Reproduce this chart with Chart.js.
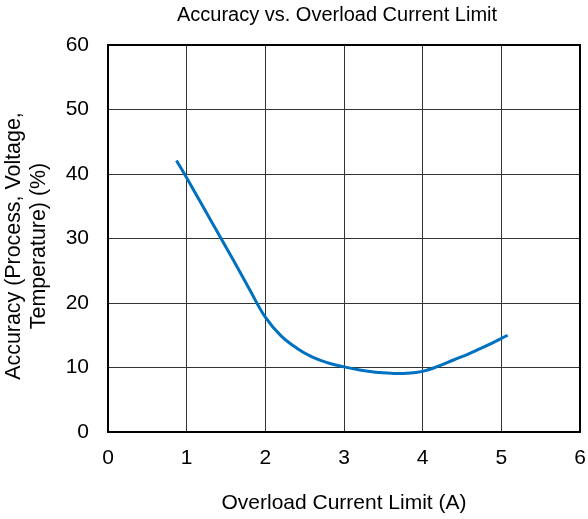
<!DOCTYPE html>
<html>
<head>
<meta charset="utf-8">
<script src="https://cdn.jsdelivr.net/npm/chart.js@4"></script>
<style>
  html, body { margin: 0; padding: 0; background: #fff; }
  #wrap { width: 588px; height: 519px; }
</style>
</head>
<body>
<div id="wrap"><canvas id="accChart" width="588" height="519"></canvas></div>
<script>
// Datos
const currentLimit = [0.87, 1.0, 1.2, 1.4, 1.6, 1.8, 2.0, 2.2, 2.4, 2.6, 2.8, 3.0, 3.2, 3.4, 3.6, 3.8, 4.0, 4.2, 4.4, 4.6, 4.8, 5.08];
const accuracy = [42.1, 39.4, 35.1, 30.8, 26.5, 22.1, 17.8, 14.9, 13.0, 11.6, 10.7, 10.1, 9.6, 9.25, 9.1, 9.1, 9.4, 10.2, 11.2, 12.2, 13.3, 15.0];
const xTicks = [0, 1, 2, 3, 4, 5, 6];
const yTicks = [0, 10, 20, 30, 40, 50, 60];
const chartTitle = 'Accuracy vs. Overload Current Limit';
const yTitle = ['Accuracy (Process, Voltage,', 'Temperature) (%)'];

const FONT = 'Arial, "Liberation Sans", sans-serif';

const points = currentLimit.map((x, i) => ({ x: x, y: accuracy[i] }));

new Chart(document.getElementById('accChart').getContext('2d'), {
    type: 'scatter',
    data: {
        datasets: [{
            data: points,
            showLine: true,
            borderColor: '#0070C0',
            borderWidth: 3,
            pointRadius: 0,
            tension: 0.4,
            fill: false
        }]
    },
    options: {
        responsive: false,
        animation: false,
        layout: { padding: { left: 0, right: 8, top: 45, bottom: 0 } },
        plugins: {
            legend: { display: false },
            tooltip: { enabled: false },
            title: { display: false }
        },
        scales: {
            x: {
                type: 'linear',
                min: 0,
                max: 6,
                afterBuildTicks: axis => { axis.ticks = xTicks.map(v => ({ value: v })); },
                afterFit: axis => {
                    axis.height = 87;
                    axis.paddingLeft = 0;
                    axis.paddingRight = 0;
                },
                border: { display: true, color: '#000', width: 2 },
                grid: { color: '#333', lineWidth: 1, drawTicks: false },
                ticks: { color: '#000', font: { family: FONT, size: 21 }, padding: 14 },
                title: {
                    display: true,
                    text: 'Overload Current Limit (A)',
                    color: '#000',
                    font: { family: FONT, size: 21, lineHeight: 1.15 },
                    padding: { top: 0, bottom: 4 }
                }
            },
            y: {
                type: 'linear',
                min: 0,
                max: 60,
                afterBuildTicks: axis => { axis.ticks = yTicks.map(v => ({ value: v })); },
                afterFit: axis => { axis.width = 108; },
                border: { display: true, color: '#000', width: 2 },
                grid: { color: '#333', lineWidth: 1, drawTicks: false },
                ticks: { color: '#000', font: { family: FONT, size: 21 }, padding: 19 },
                title: { display: false }
            }
        }
    },
    plugins: [{
        // marco completo del área de trazado, título y título del eje Y
        id: 'frame',
        afterDraw(chart) {
            const a = chart.chartArea;
            const c = chart.ctx;
            c.save();
            c.strokeStyle = '#000';
            c.lineWidth = 2;
            c.strokeRect(a.left, a.top, a.right - a.left, a.bottom - a.top);
            c.fillStyle = '#000';
            c.textAlign = 'center';
            c.textBaseline = 'middle';
            c.font = '20px ' + FONT;
            c.fillText(chartTitle, 337, 15);
            c.font = '21.4px ' + FONT;
            c.translate(0, 246);
            c.rotate(-Math.PI / 2);
            yTitle.forEach((line, i) => c.fillText(line, 0, 14.5 + i * 24.5));
            c.restore();
        }
    }]
});
</script>
</body>
</html>
